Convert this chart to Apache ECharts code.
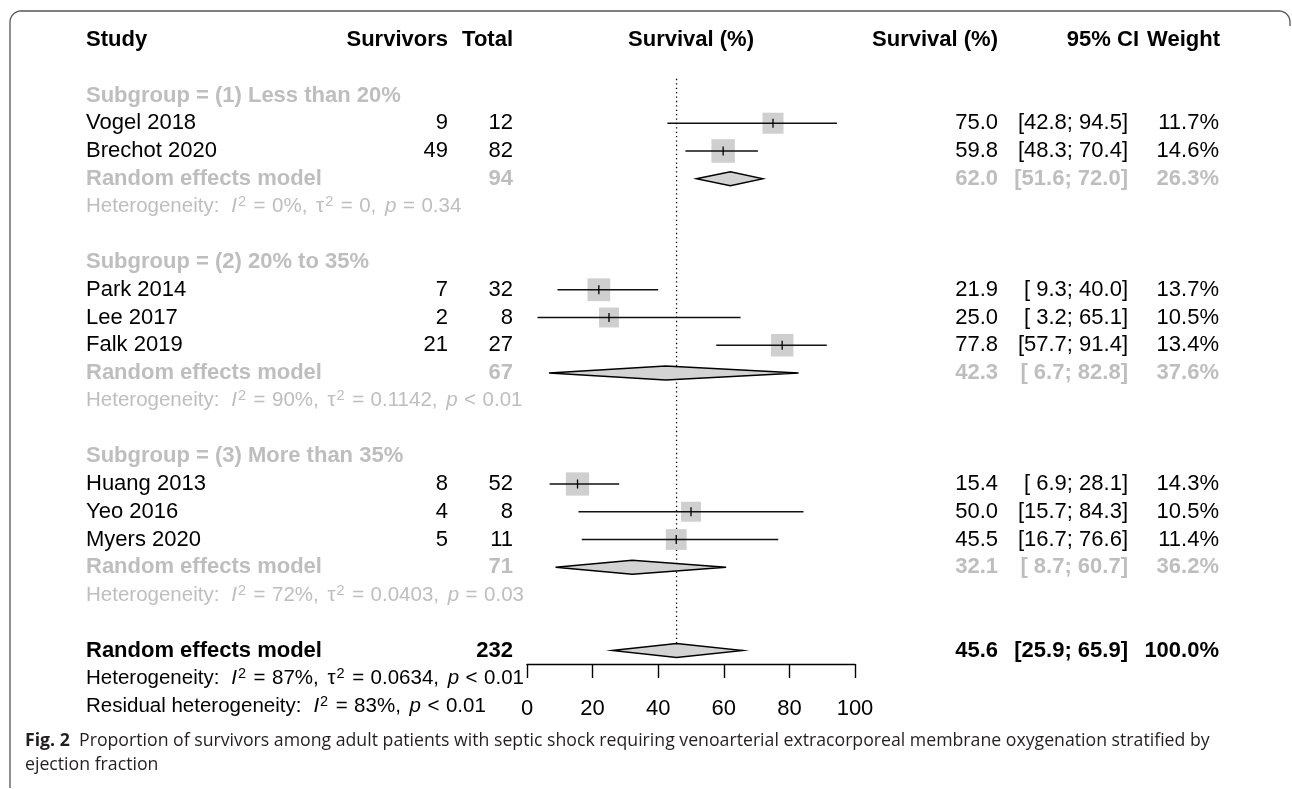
<!DOCTYPE html>
<html><head><meta charset="utf-8">
<script src="https://cdn.jsdelivr.net/npm/echarts@6/dist/echarts.min.js"></script>
<style>html,body{margin:0;padding:0;background:#fff}#c{width:1292px;height:789px}</style>
</head><body><div id="c"></div>
<script>
// ---------- data ----------
const headerLabels = ['Study', 'Survivors', 'Total', 'Survival (%)', 'Survival (%)', '95% CI', 'Weight'];
const studies = ['Vogel 2018', 'Brechot 2020', 'Park 2014', 'Lee 2017', 'Falk 2019', 'Huang 2013', 'Yeo 2016', 'Myers 2020'];
const studyGroup = [0, 0, 1, 1, 1, 2, 2, 2];
const survivors = [9, 49, 7, 2, 21, 8, 4, 5];
const totals = [12, 82, 32, 8, 27, 52, 8, 11];
const estimates = [75.0, 59.8, 21.9, 25.0, 77.8, 15.4, 50.0, 45.5];
const ciLower = [42.8, 48.3, 9.3, 3.2, 57.7, 6.9, 15.7, 16.7];
const ciUpper = [94.5, 70.4, 40.0, 65.1, 91.4, 28.1, 84.3, 76.6];
const weights = [11.7, 14.6, 13.7, 10.5, 13.4, 14.3, 10.5, 11.4];

const subgroups = ['(1) Less than 20%', '(2) 20% to 35%', '(3) More than 35%'];
const subTotals = [94, 67, 71];
const subEst = [62.0, 42.3, 32.1];
const subLower = [51.6, 6.7, 8.7];
const subUpper = [72.0, 82.8, 60.7];
const subWeights = [26.3, 37.6, 36.2];
const subI2 = ['0%', '90%', '72%'];
const subTau2 = ['0', '0.1142', '0.0403'];
const subPOp = ['=', '<', '='];
const subP = ['0.34', '0.01', '0.03'];

const overallTotal = 232;
const overallEst = 45.6;
const overallLower = 25.9;
const overallUpper = 65.9;
const overallWeight = 100.0;
const overallI2 = '87%';
const overallTau2 = '0.0634';
const overallPOp = '<';
const overallP = '0.01';
const residualI2 = '83%';
const residualPOp = '<';
const residualP = '0.01';

const xTicks = [0, 20, 40, 60, 80, 100];

const captionBold = 'Fig. 2';
const captionLine1 = 'Proportion of survivors among adult patients with septic shock requiring venoarterial extracorporeal membrane oxygenation stratified by';
const captionLine2 = 'ejection fraction';

// ---------- build rows ----------
const fmt1 = v => v.toFixed(1);
const pad = v => (v < 10 ? ' ' : '') + fmt1(v);
const ciText = (lo, hi) => '[' + pad(lo) + '; ' + pad(hi) + ']';
const hetText = (label, i2, tau2, pop, p) =>
  '{lab|' + label + '}{it|I}{sup|2}{op|=}' + i2 + ',{cm| }' +
  (tau2 !== null ? '{n|\u03c4}{sup|2}{op|=}' + tau2 + ',{cm| }' : '') +
  '{it|p}{op|' + pop + '}' + p;

const textRows = [];
const squareData = [];
const diamondData = [];
let row = 2;
subgroups.forEach((sg, g) => {
  textRows.push({ row, kind: 'subLabel', label: 'Subgroup = ' + sg });
  row++;
  studies.forEach((s, i) => {
    if (studyGroup[i] !== g) return;
    textRows.push({ row, kind: 'study', label: s, surv: String(survivors[i]), total: String(totals[i]),
      est: fmt1(estimates[i]), ci: ciText(ciLower[i], ciUpper[i]), weight: fmt1(weights[i]) + '%' });
    squareData.push([estimates[i], ciLower[i], ciUpper[i], row, weights[i]]);
    row++;
  });
  textRows.push({ row, kind: 'subRE', label: 'Random effects model', total: String(subTotals[g]),
    est: fmt1(subEst[g]), ci: ciText(subLower[g], subUpper[g]), weight: fmt1(subWeights[g]) + '%' });
  diamondData.push([subEst[g], subLower[g], subUpper[g], row]);
  row++;
  textRows.push({ row, kind: 'subHet', label: hetText('Heterogeneity:', subI2[g], subTau2[g], subPOp[g], subP[g]) });
  row++;
  row++;
});
const overallRow = row;
textRows.push({ row, kind: 'allRE', label: 'Random effects model', total: String(overallTotal),
  est: fmt1(overallEst), ci: ciText(overallLower, overallUpper), weight: fmt1(overallWeight) + '%' });
diamondData.push([overallEst, overallLower, overallUpper, row]);
row++;
textRows.push({ row, kind: 'allHet', label: hetText('Heterogeneity:', overallI2, overallTau2, overallPOp, overallP) });
row++;
textRows.push({ row, kind: 'allHet', label: hetText('Residual heterogeneity:', residualI2, null, residualPOp, residualP) });

// ---------- layout / style ----------
const FONT = '"Liberation Sans", Arial, Helvetica, sans-serif';
const CAPFONT = '"Open Sans", "Noto Sans", sans-serif';
const GRAY = '#bebebe';
const ROW_H = 27.75;
const FIRST_Y = 40;
const HET_SIZE = 20.5;
const COL = { study: 86, surv: 448, total: 513, est: 998, ci: 1128, weight: 1219 };
const HEAD_X = [86, 448, 513, null, 998, 1139, 1220];
const HEAD_ALIGN = ['left', 'right', 'right', 'center', 'right', 'right', 'right'];
const kinds = {
  subLabel: { color: GRAY, weight: 'bold', size: 22 },
  study: { color: '#000', weight: 'normal', size: 22 },
  subRE: { color: GRAY, weight: 'bold', size: 22 },
  subHet: { color: GRAY, weight: 'normal', size: HET_SIZE, rich: true },
  allRE: { color: '#000', weight: 'bold', size: 22 },
  allHet: { color: '#000', weight: 'normal', size: HET_SIZE, rich: true }
};
function richFor(color) {
  const base = { fontSize: HET_SIZE, fontFamily: FONT, fill: color, lineHeight: 24 };
  return {
    lab: Object.assign({}, base, { padding: [0, 12, 0, 0] }),
    it: Object.assign({}, base, { fontStyle: 'italic' }),
    n: Object.assign({}, base),
    op: Object.assign({}, base, { padding: [0, 6.5, 0, 6.5] }),
    cm: Object.assign({}, base, { padding: [0, 3, 0, 0] }),
    sup: { fontSize: 14.5, fontFamily: FONT, fill: color, verticalAlign: 'top', lineHeight: 13, padding: [0, 1, 0, 1] }
  };
}
function txt(x, y, text, align, k) {
  const st = { x, y, text, align, verticalAlign: 'middle', fill: k.color,
    fontSize: k.size, fontWeight: k.weight, fontFamily: FONT };
  if (k.rich) { st.rich = richFor(k.color); st.lineHeight = 24; }
  return { type: 'text', style: st };
}

// frame outline (rounded top corners)
function arcPts(cx, cy, r, a0, a1) {
  const pts = [];
  for (let j = 0; j <= 8; j++) {
    const a = a0 + (a1 - a0) * j / 8;
    pts.push([cx + r * Math.cos(a), cy + r * Math.sin(a)]);
  }
  return pts;
}
const R = 11;
const framePts = [[10, 788]].concat(
  arcPts(10 + R, 11 + R, R, Math.PI, 1.5 * Math.PI),
  arcPts(1290 - R, 11 + R, R, 1.5 * Math.PI, 2 * Math.PI),
  [[1290, 26]]
);

const chart = echarts.init(document.getElementById('c'), null, { renderer: 'canvas', width: 1292, height: 789 });
const gridTop = FIRST_Y - ROW_H;
const option = {
  animation: false,
  backgroundColor: '#fff',
  grid: [
    { left: 527, width: 328, top: gridTop, height: ROW_H * 26 },
    { left: 527, width: 328, top: 663, height: 1 }
  ],
  xAxis: [
    { gridIndex: 0, type: 'value', min: xTicks[0], max: xTicks[xTicks.length - 1], show: false },
    { gridIndex: 1, type: 'value', min: xTicks[0], max: xTicks[xTicks.length - 1], interval: xTicks[1] - xTicks[0],
      position: 'bottom',
      axisLine: { show: true, lineStyle: { color: '#000', width: 1.4 } },
      axisTick: { show: true, length: 14, lineStyle: { color: '#000', width: 1.4 } },
      axisLabel: { show: true, fontSize: 22, color: '#000', fontFamily: FONT, margin: 34, showMinLabel: true, showMaxLabel: true },
      splitLine: { show: false } }
  ],
  yAxis: [
    { gridIndex: 0, type: 'value', min: -1, max: 25, inverse: true, show: false },
    { gridIndex: 1, type: 'value', show: false }
  ],
  series: [
    { type: 'line', xAxisIndex: 0, yAxisIndex: 0, z: 1, silent: true, symbol: 'none',
      data: [[overallEst, 1.4], [overallEst, overallRow]],
      lineStyle: { color: '#000', width: 1.3, type: [1.3, 3.1] } },
    { type: 'custom', xAxisIndex: 0, yAxisIndex: 0, z: 3, clip: false, silent: true,
      data: squareData,
      renderItem(params, api) {
        const est = api.value(0), lo = api.value(1), hi = api.value(2), r = api.value(3), w = api.value(4);
        const pE = api.coord([est, r]), pL = api.coord([lo, r]), pH = api.coord([hi, r]);
        const s = 6.15 * Math.sqrt(w);
        return { type: 'group', children: [
          { type: 'rect', shape: { x: pE[0] - s / 2, y: pE[1] - s / 2, width: s, height: s }, style: { fill: '#cfcfcf' } },
          { type: 'line', shape: { x1: pL[0], y1: pL[1], x2: pH[0], y2: pH[1] }, style: { stroke: '#111', lineWidth: 1.3 } },
          { type: 'line', shape: { x1: pE[0], y1: pE[1] - 4.5, x2: pE[0], y2: pE[1] + 4.5 }, style: { stroke: '#000', lineWidth: 1.3 } }
        ] };
      } },
    { type: 'custom', xAxisIndex: 0, yAxisIndex: 0, z: 3, clip: false, silent: true,
      data: diamondData,
      renderItem(params, api) {
        const est = api.value(0), lo = api.value(1), hi = api.value(2), r = api.value(3);
        const pE = api.coord([est, r]), pL = api.coord([lo, r]), pH = api.coord([hi, r]);
        const h = 7;
        return { type: 'polygon', shape: { points: [[pL[0], pL[1]], [pE[0], pE[1] - h], [pH[0], pH[1]], [pE[0], pE[1] + h]] },
          style: { fill: '#d3d3d3', stroke: '#000', lineWidth: 1.3 } };
      } },
    { type: 'custom', xAxisIndex: 0, yAxisIndex: 0, z: 4, clip: false, silent: true,
      data: textRows.map((r, i) => [0, r.row, i]),
      renderItem(params, api) {
        const r = textRows[params.dataIndex];
        const y = api.coord([0, r.row])[1];
        const k = kinds[r.kind];
        const ch = [txt(COL.study, y, r.label, 'left', k)];
        if (r.surv) ch.push(txt(COL.surv, y, r.surv, 'right', k));
        if (r.total) ch.push(txt(COL.total, y, r.total, 'right', k));
        if (r.est) ch.push(txt(COL.est, y, r.est, 'right', k));
        if (r.ci) ch.push(txt(COL.ci, y, r.ci, 'right', k));
        if (r.weight) ch.push(txt(COL.weight, y, r.weight, 'right', k));
        return { type: 'group', children: ch };
      } },
    { type: 'custom', xAxisIndex: 0, yAxisIndex: 0, z: 4, clip: false, silent: true,
      data: [[50, 0]],
      renderItem(params, api) {
        const p = api.coord([api.value(0), api.value(1)]);
        const k = { color: '#000', weight: 'bold', size: 22 };
        return { type: 'group', children: headerLabels.map((h, i) =>
          txt(HEAD_X[i] === null ? p[0] : HEAD_X[i], p[1], h, HEAD_ALIGN[i], k)) };
      } }
  ],
  graphic: [
    { type: 'polyline', silent: true, shape: { points: framePts },
      style: { fill: null, stroke: '#555', lineWidth: 1.3 } },
    { type: 'text', left: 25, top: 732, silent: true,
      style: { text: '{b|' + captionBold + '}  ' + captionLine1, fontSize: 17.7, fontFamily: CAPFONT, fill: '#231f20',
        rich: { b: { fontWeight: 'bold', fontSize: 17.7, fontFamily: CAPFONT, fill: '#231f20' } } } },
    { type: 'text', left: 25, top: 756, silent: true,
      style: { text: captionLine2, fontSize: 17.7, fontFamily: CAPFONT, fill: '#231f20' } }
  ]
};
chart.setOption(option);
</script>
</body></html>
